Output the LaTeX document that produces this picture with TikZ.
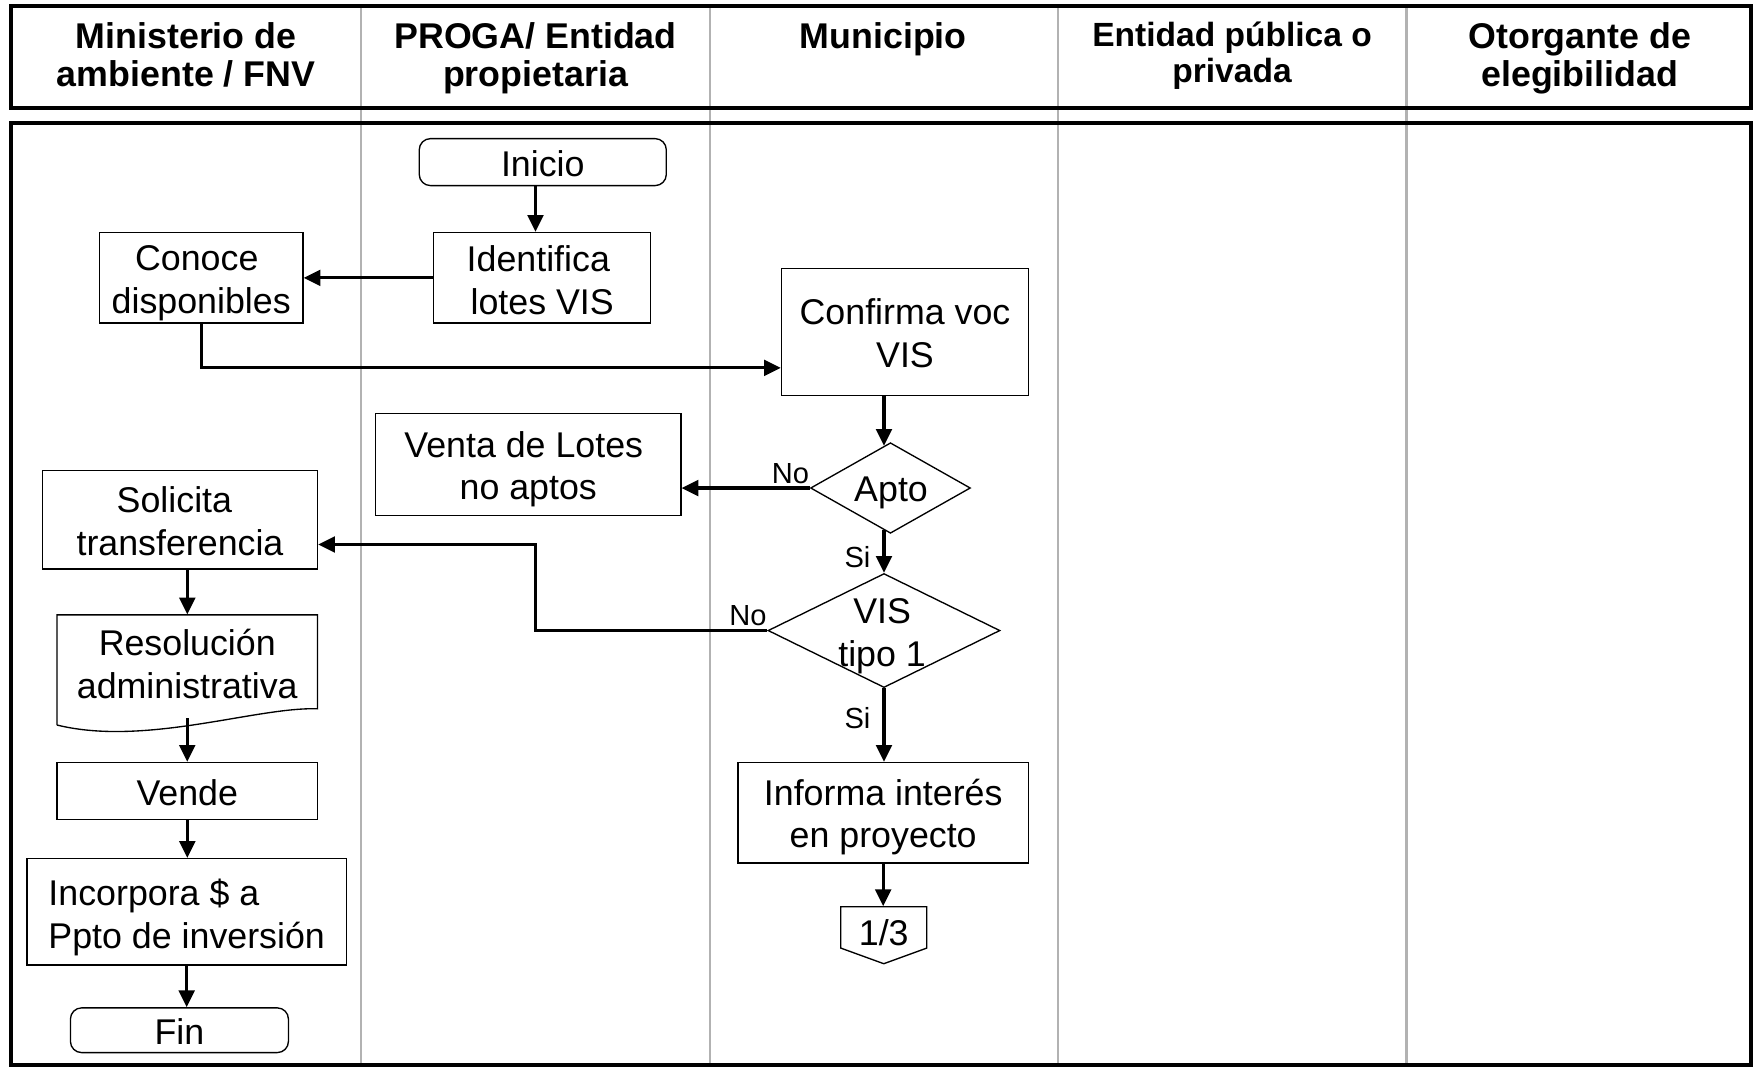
\documentclass[tikz,border=0pt]{standalone}
\usepackage{fontspec}
\setmainfont{Liberation Sans}
\usetikzlibrary{shapes.geometric, arrows.meta, calc}
\newcommand\mystrut{\rule[-3.5pt]{0pt}{20pt}}
\begin{document}
\begin{tikzpicture}[x=0.5pt, y=-0.5pt,
  txt/.style={font=\fontsize{16}{19}\selectfont, align=center, inner sep=0pt,
    execute at begin node=\mystrut, execute at end node=\mystrut},
  box/.style={txt, draw, line width=0.6pt},
  term/.style={box, rounded corners=5pt},
  mtxt/.style={font=\fontsize{16}{19}\selectfont, align=center, inner sep=0pt, yshift=-2.5pt},
  mbox/.style={draw, line width=0.6pt, inner sep=0pt},
  hdr/.style={font=\bfseries\fontsize{16}{17}\selectfont, align=center, inner sep=0pt,
    anchor=north, execute at begin node=\mystrut, execute at end node=\mystrut},
  lab/.style={font=\fontsize{13}{15}\selectfont, inner sep=0pt},
  arr/.style={line width=1.4pt, -{Triangle[length=7.5pt, width=7pt]}},
  dec/.style={diamond, draw, line width=0.6pt, inner sep=0pt},
  lane/.style={line width=1pt, black!30},
  frame/.style={line width=1.8pt}
]
\useasboundingbox (0,0) rectangle (1568,954);
\fill[white] (0,0) rectangle (1568,954);

% lanes and frames
\foreach \x in {323,635,946,1258} \draw[lane] (\x,5) -- (\x,953);
\draw[frame] (10,5.5) rectangle (1566,96.7);
\draw[frame] (10,109.7) rectangle (1566,953);

% headers
\node[hdr] (h1) at (166.5,20) {Ministerio de\\ambiente / FNV};
\node[hdr] (h2) at (479,20) {PROGA/ Entidad\\propietaria};
\node[hdr] (h3) at (790,10) {Municipio};
\node[hdr, font=\bfseries\fontsize{15}{16}\selectfont] (h4) at (1102,19) {Entidad pública o\\privada};
\node[hdr] (h5) at (1413,20) {Otorgante de\\elegibilidad};

% nodes
\node[term, minimum width=110.5pt, minimum height=21pt] (inicio) at (485.5,145) {Inicio};
\node[mbox, minimum width=97pt, minimum height=40.5pt,
  label={[mtxt, yshift=1.5pt]center:{Identifica\kern3.5pt\\lotes VIS}}] (ident) at (485,248.5) {};
\node[mbox, minimum width=91pt, minimum height=40.5pt,
  label={[mtxt]center:{Conoce\kern4pt\\disponibles}}] (conoce) at (180,248.5) {};
\node[mbox, minimum width=110.5pt, minimum height=57pt,
  label={[mtxt, yshift=2pt]center:{Confirma voc\\VIS}}] (confirma) at (809.5,297) {};
\node[dec, minimum width=71.5pt, minimum height=40.5pt] (apto) at (796.5,436.5) {};
\node[txt] (aptotxt) at (797,436) {Apto};
\node[mbox, minimum width=136.5pt, minimum height=45.5pt,
  label={[mtxt, yshift=0.5pt]center:{Venta de Lotes\kern4pt\\no aptos}}] (venta) at (472.5,415.5) {};
\node[dec, minimum width=103.75pt, minimum height=51pt] (vis) at (790.7,564) {};
\node[mtxt] (vistxt) at (789,564) {VIS\\tipo 1};
\node[mbox, minimum width=123pt, minimum height=44pt,
  label={[mtxt, yshift=2pt]center:{Solicita\kern5pt\\transferencia}}] (sol) at (161,465) {};
\node[inner sep=0pt, minimum width=116.5pt, minimum height=46pt,
  label={[mtxt, yshift=3.5pt]center:{Resolución\\administrativa}}] (res) at (167.5,596) {};
\draw[line width=0.6pt] (51,648.5) -- (51,550) -- (284,550) -- (284,634)
   .. controls (230,632) and (130,668) .. (51,648.5);
\node[box, minimum width=116.5pt, minimum height=25.5pt] (vende) at (167.5,707.5) {Vende};
\node[mbox, minimum width=143pt, minimum height=47.5pt,
  label={[mtxt, align=left]center:{Incorpora \$ a\\Ppto de inversión}}] (inc) at (167,815.5) {};
\node[term, minimum width=97.5pt, minimum height=19.5pt] (fin) at (160.5,921.5) {Fin};
\node[mbox, minimum width=130pt, minimum height=45pt,
  label={[mtxt, yshift=0.5pt]center:{Informa interés\\en proyecto}}] (informa) at (790,727) {};
\node[font=\fontsize{16}{19}\selectfont, inner sep=0pt, minimum width=38.5pt, minimum height=23pt] (pg) at (790.5,834) {1/3};
\draw[line width=0.6pt] (752,811) -- (829,811) -- (829,848) -- (790.5,862) -- (752,848) -- cycle;

% labels
\node[lab] (no1) at (707,424) {No};
\node[lab] (si1) at (767,498) {Si};
\node[lab] (no2) at (669,551) {No};
\node[lab] (si2) at (767,642) {Si};

% connectors
\draw[arr] ([xshift=-3.25pt]inicio.south) -- ([xshift=-3.25pt]inicio.south |- ident.north);
\draw[arr] (ident.west) -- (conoce.east);
\draw[arr] (conoce.south) |- ([yshift=-16pt]confirma.west);
\coordinate (a1) at ([yshift=-1.7pt]apto.north);
\draw[arr] (confirma.south -| vis.north) -- (a1 -| vis.north);
\draw[arr] (apto.west) -- (apto.west -| venta.east);
\coordinate (a2) at ([yshift=1.7pt]apto.south);
\draw[arr] (a2 -| vis.north) -- (vis.north);
\coordinate (c1) at (479,487);
\draw[arr] (vis.west) -| (c1) -- (c1 -| sol.east);
\draw[arr] (vis.south) -- (vis.south |- informa.north);
\draw[arr] (informa.south) -- (informa.south |- pg.north);
\draw[arr] (sol.south -| res.north) -- (res.north);
\draw[arr] (res.south) -- (res.south |- vende.north);
\draw[arr] (vende.south) -- (vende.south |- inc.north);
\draw[arr] (inc.south) -- (inc.south |- fin.north);
\end{tikzpicture}
\end{document}
